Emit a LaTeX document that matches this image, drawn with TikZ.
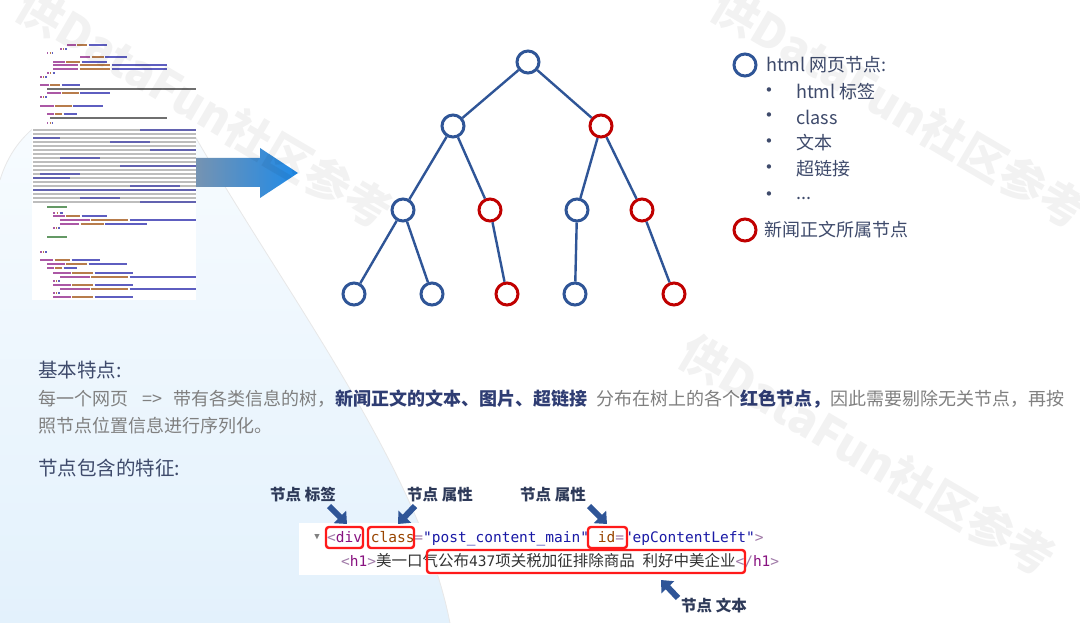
\documentclass[tikz,border=0pt]{standalone}
\usepackage{fontspec}
\setmainfont{Noto Sans CJK SC}
\setmonofont{DejaVu Sans Mono}
\newfontfamily\dejavu{DejaVu Sans}
\usetikzlibrary{arrows.meta}
\definecolor{tblue}{HTML}{2F5597}
\definecolor{tred}{HTML}{C00000}
\definecolor{legtxt}{HTML}{3E4A6B}
\definecolor{labtxt}{HTML}{2E3A59}
\definecolor{bodygrey}{HTML}{808080}
\definecolor{boldblue}{HTML}{2F3D73}
\definecolor{boxred}{HTML}{FF1A1A}
\definecolor{tagpurple}{HTML}{881280}
\definecolor{attrorange}{HTML}{994500}
\definecolor{valblue}{HTML}{1A1AA6}
\definecolor{punc}{HTML}{A07AA8}
\definecolor{codetxt}{HTML}{333333}
\definecolor{comgreen}{HTML}{236E25}
\definecolor{bgtop}{HTML}{F8FCFF}
\definecolor{bgbot}{HTML}{E3F1FC}
\definecolor{arrL}{HTML}{7593B2}
\definecolor{arrR}{HTML}{1E8AE8}
\newcommand{\codetag}[3]{%
  \pgfmathsetmacro{\cma}{#2+0.22*(#3-#2)}%
  \pgfmathsetmacro{\cmb}{#2+0.5*(#3-#2)}%
  \draw[cl,tagpurple] (#2,#1) -- (\cma,#1);%
  \draw[cl,attrorange] (\cma+1.5,#1) -- (\cmb,#1);%
  \draw[cl,valblue] (\cmb+1.5,#1) -- (#3,#1);}
\newcommand{\codecjk}[3]{\draw[cl,codetxt] (#2,#1) -- (#3,#1);}
\newcommand{\codecom}[3]{\draw[cl,comgreen] (#2,#1) -- (#3,#1);}
\begin{document}
\begin{tikzpicture}[x=1pt,y=-1pt,
  tnode/.style={circle,draw=tblue,line width=3pt,minimum size=22pt,inner sep=0pt},
  rnode/.style={tnode,draw=tred},
  edge/.style={draw=tblue,line width=2.4pt},
  legtext/.style={anchor=west,text=legtxt,font=\fontsize{18}{21}\selectfont,inner sep=0pt},
  bullet/.style={text=legtxt,font=\dejavu\fontsize{15}{17}\selectfont,inner sep=0pt},
  heading/.style={anchor=base west,text=legtxt,font=\fontsize{19.5}{22}\selectfont,inner sep=0pt},
  body/.style={anchor=base west,text=bodygrey,font=\fontsize{18}{21}\selectfont,inner sep=0pt},
  lab/.style={text=labtxt,font=\fontsize{15.5}{18}\selectfont\bfseries,inner sep=0pt},
  redbox/.style={draw=boxred,line width=2.4pt,rounded corners=3pt,inner sep=0pt},
  labarrow/.style={draw=tblue,line width=6pt,-{Triangle[length=10pt,width=17pt]}},
  cl/.style={line width=1.3pt,opacity=0.7},
  wm/.style={text=black,text opacity=0.05,font=\fontsize{46}{50}\selectfont\bfseries,rotate=-30.5,inner sep=0pt}
]
\useasboundingbox (0,0) rectangle (1080,623);
\fill[white] (0,0) rectangle (1080,623);

% pale background shape
\shade[top color=bgtop, bottom color=bgbot]
  (0,180) .. controls (15,130) and (60,95) .. (140,100)
  .. controls (170,103) and (185,120) .. (196,138)
  .. controls (290,300) and (420,470) .. (450,623) -- (0,623) -- cycle;
\draw[gray!18,line width=0.8pt]
  (0,180) .. controls (15,130) and (60,95) .. (140,100)
  .. controls (170,103) and (185,120) .. (196,138)
  .. controls (290,300) and (420,470) .. (450,623);

% source code screenshot
\fill[white] (32,43) rectangle (196,300);
\codetag{45}{67}{107}
\codetag{49}{60}{67}
\codetag{53}{47}{53}
\codetag{57}{80}{127}
\codetag{62}{53}{107}
\codetag{65}{53}{167}
\codetag{69}{53}{167}
\codetag{73}{47}{55}
\codetag{77}{40}{47}
\codetag{85}{40}{80}
\codecjk{89}{47}{196}
\codetag{93}{47}{110}
\codetag{97}{40}{47}
\codetag{106}{40}{103}
\codetag{114}{47}{77}
\codecjk{118}{50}{167}
\codetag{123}{47}{53}
\foreach \yy in {130,134,...,202} {
  \draw[line width=2.6pt,gray!60,opacity=0.85] (33,\yy) -- (196,\yy);
}
\foreach \yy/\xa/\xb in {130/140/196,138/33/60,142/110/150,150/150/196,158/60/100,166/120/196,174/40/80,178/33/70,186/130/180,190/33/196,198/80/120,202/140/196} {
  \draw[line width=1.6pt,valblue,opacity=0.55] (\xa,\yy) -- (\xb,\yy);
}
\codecom{207}{47}{67}
\codetag{213}{53}{63}
\codetag{216}{53}{107}
\codetag{220}{60}{196}
\codetag{224}{60}{147}
\codetag{228}{53}{60}
\codecom{237}{47}{67}
\codetag{252}{40}{47}
\codetag{260}{40}{100}
\codetag{264}{47}{127}
\codetag{268}{47}{77}
\codetag{273}{53}{133}
\codetag{277}{60}{196}
\codetag{281}{53}{60}
\codetag{285}{53}{133}
\codetag{289}{60}{196}
\codetag{293}{53}{60}
\codetag{297}{53}{133}

% big gradient arrow
\shade[left color=arrL, right color=arrR]
  (196,158) -- (260,158) -- (260,148) -- (298,173) -- (260,198) -- (260,187) -- (196,187) -- cycle;

% tree
\node[tnode] (r) at (528,62) {};
\node[tnode] (a) at (453,126) {};
\node[rnode] (b) at (601,126) {};
\node[tnode] (aa) at (403,210) {};
\node[rnode] (ab) at (490,210) {};
\node[tnode] (ba) at (577,210) {};
\node[rnode] (bb) at (642,210) {};
\node[tnode] (aaa) at (354,294) {};
\node[tnode] (aab) at (432,294) {};
\node[rnode] (aba) at (507,294) {};
\node[tnode] (baa) at (575,294) {};
\node[rnode] (bba) at (674,294) {};
\draw[edge] (r) -- (a);
\draw[edge] (r) -- (b);
\draw[edge] (a) -- (aa);
\draw[edge] (a) -- (ab);
\draw[edge] (b) -- (ba);
\draw[edge] (b) -- (bb);
\draw[edge] (aa) -- (aaa);
\draw[edge] (aa) -- (aab);
\draw[edge] (ab) -- (aba);
\draw[edge] (ba) -- (baa);
\draw[edge] (bb) -- (bba);

% legend
\node[tnode] (lg1) at (745,65) {};
\node[legtext] (lt1) at (766,65) {html 网页节点:};
\node[bullet] (bu1) at (769,92) {•};
\node[bullet] (bu2) at (769,117) {•};
\node[bullet] (bu3) at (769,143) {•};
\node[bullet] (bu4) at (769,169) {•};
\node[bullet] (bu5) at (769,196) {•};
\node[legtext] (li1) at (796,92) {html 标签};
\node[legtext] (li2) at (796,117) {class};
\node[legtext] (li3) at (796,143) {文本};
\node[legtext] (li4) at (796,169) {超链接};
\node[legtext] (li5) at (796,198) {...};
\node[rnode] (lg2) at (745,230) {};
\node[legtext] (lt2) at (764,230) {新闻正文所属节点};

% text block
\node[heading] (h1) at (38,377) {基本特点:};
\node[body] (p1) at (38,405) {每一个网页\hspace{0.8em}=>\hspace{0.6em}带有各类信息的树，{\color{boldblue}\bfseries 新闻正文的文本、图片、超链接}\hspace{0.5em}分布在树上的各个{\color{boldblue}\bfseries 红色节点，}因此需要剔除无关节点，再按};
\node[body] (p2) at (38,432) {照节点位置信息进行序列化。};
\node[heading] (h2) at (38,475) {节点包含的特征:};

% code snippet
\fill[white] (299,523) rectangle (782,575);
\node[anchor=center,text=gray,font=\ttfamily\fontsize{9}{10}\selectfont,inner sep=0pt] (tri) at (317,537) {▼};
\node[anchor=base west,inner sep=0pt,font=\ttfamily\fontsize{14.5}{16}\selectfont] (c1) at (327,542)
 {\textcolor{punc}{<}\textcolor{tagpurple}{div} \textcolor{attrorange}{class}\textcolor{punc}{=}\textcolor{valblue}{"post\_content\_main"} \textcolor{attrorange}{id}\textcolor{punc}{=}\textcolor{valblue}{"epContentLeft"}\textcolor{punc}{>}};
\node[anchor=base west,inner sep=0pt,font=\fontsize{15.5}{17}\selectfont] (c2) at (341,566)
 {{\ttfamily\fontsize{14.5}{16}\selectfont\textcolor{punc}{<}\textcolor{tagpurple}{h1}\textcolor{punc}{>}}{\color{codetxt}美一口气公布{\ttfamily\fontsize{14.5}{16}\selectfont 437}项关税加征排除商品\hspace{0.5em}利好中美企业}{\ttfamily\fontsize{14.5}{16}\selectfont\textcolor{punc}{</}\textcolor{tagpurple}{h1}\textcolor{punc}{>}}};

\node[redbox,minimum width=37pt,minimum height=21pt] (b1) at (344.5,537.5) {};
\node[redbox,minimum width=46pt,minimum height=21pt] (b2) at (391,537.5) {};
\node[redbox,minimum width=39pt,minimum height=21pt] (b3) at (607.5,537.5) {};
\node[redbox,minimum width=318pt,minimum height=23pt] (b4) at (586,561.5) {};

% labels and arrows
\node[lab] (l1) at (303,495) {节点 标签};
\node[lab] (l2) at (440,495) {节点 属性};
\node[lab] (l3) at (553,495) {节点 属性};
\node[lab] (l4) at (714,606) {节点 文本};
\coordinate (a1s) at (329,506);
\coordinate (a1e) at (347,524);
\coordinate (a2s) at (415,506);
\coordinate (a2e) at (398,524);
\coordinate (a3s) at (589,506);
\coordinate (a3e) at (607,524);
\coordinate (a4s) at (678,598);
\coordinate (a4e) at (661,580);
\draw[labarrow] (a1s) -- (a1e);
\draw[labarrow] (a2s) -- (a2e);
\draw[labarrow] (a3s) -- (a3e);
\draw[labarrow] (a4s) -- (a4e);

% watermarks
\node[wm] (w1) at (205,108) {供DataFun社区参考};
\node[wm] (w2) at (900,108) {供DataFun社区参考};
\node[wm] (w3) at (868,455) {供DataFun社区参考};
\end{tikzpicture}
\end{document}
